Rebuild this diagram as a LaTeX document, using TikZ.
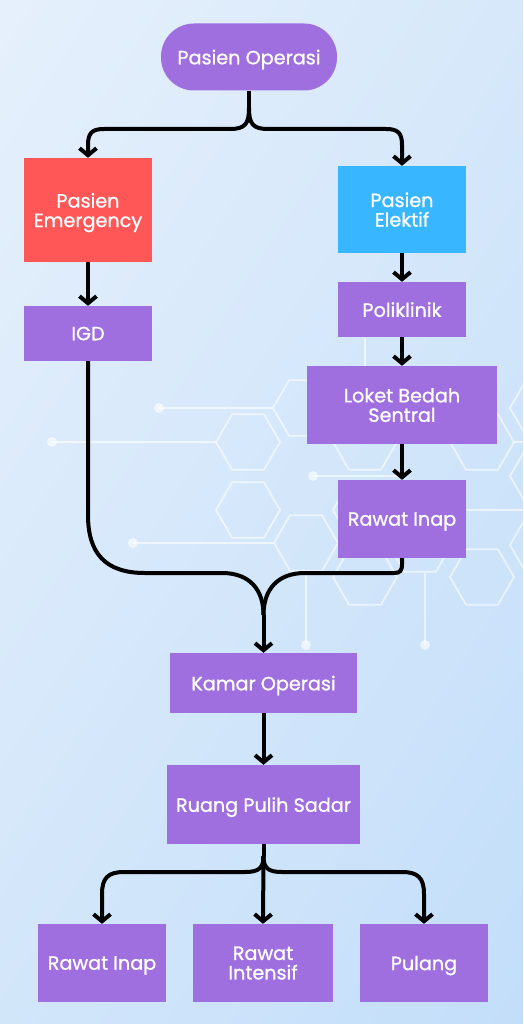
\documentclass[tikz,border=0pt]{standalone}
\usepackage{fontspec}
\setmainfont{Poppins}[FakeBold=0.9]
\usetikzlibrary{arrows.meta,shadings}
\definecolor{purp}{HTML}{9F6FE0}
\definecolor{emred}{HTML}{FF5757}
\definecolor{elblue}{HTML}{38B6FF}
\definecolor{bgA}{HTML}{E6F0FC}
\definecolor{bgB}{HTML}{D6E8FA}
\definecolor{bgC}{HTML}{D2E6FA}
\definecolor{bgD}{HTML}{C3DEFA}
\begin{document}
\begin{tikzpicture}[x=1pt,y=1pt,
  box/.style={rectangle, fill=purp, text=white, align=center, inner sep=0pt,
    text depth=0pt, font=\fontsize{19.2}{19.5}\selectfont},
  flow/.style={line width=4pt, black, -{Straight Barb[length=7pt,width=17pt]}},
  link/.style={line width=4pt, black},
  hexline/.style={white, opacity=0.6, line width=1.8pt, line join=round},
  dotmark/.style={fill=white, opacity=0.6},
]
\shade[upper left=bgA, upper right=bgB, lower left=bgC, lower right=bgD]
  (0,0) rectangle (523,-1024);
\useasboundingbox (0,0) rectangle (523,-1024);

% background decoration
\foreach \cx/\cy in {248/442, 248/510, 305/408, 306/543, 365/442, 365/510, 365/577,
  420/544, 482/442, 482/577, 542/408, 542/476, 542/545}
  \draw[hexline] (\cx,-\cy) ++(32,0) -- ++(-16,-27.7) -- ++(-32,0) -- ++(-16,27.7)
     -- ++(16,27.7) -- ++(32,0) -- cycle;
\draw[hexline] (159,-408) -- (273,-408);
\draw[hexline] (52,-442) -- (216,-442);
\draw[hexline] (313,-476) -- (400,-476);
\draw[hexline] (133,-543) -- (274,-543);
\draw[hexline] (306,-571) -- (306,-645);
\draw[hexline] (425,-573) -- (425,-645);
\draw[hexline] (365,-338) -- (365,-380);
\draw[hexline] (467,-510) -- (523,-510);
\draw[hexline] (514,-442) -- (523,-442);
\foreach \px/\py in {159/408, 52/442, 313/476, 133/543, 306/645, 425/645}
  \fill[dotmark] (\px,-\py) circle (5);

% nodes
\node[box, rounded corners=33pt, minimum width=176pt, minimum height=67pt] (po) at (249,-57) {Pasien Operasi};
\node[box, fill=emred, minimum width=128pt, minimum height=104pt] (em) at (88,-210) {Pasien\\Emergency};
\node[box, fill=elblue, minimum width=128pt, minimum height=87pt] (el) at (402,-209.5) {Pasien\\Elektif};
\node[box, minimum width=128pt, minimum height=55pt] (igd) at (88,-333.5) {IGD};
\node[box, minimum width=128pt, minimum height=55pt] (pk) at (402,-309.5) {Poliklinik};
\node[box, minimum width=190pt, minimum height=78pt] (lbs) at (402,-405) {Loket Bedah\\Sentral};
\node[box, minimum width=128pt, minimum height=78pt] (ri) at (402,-519) {Rawat Inap};
\node[box, minimum width=187pt, minimum height=60pt] (ko) at (263.5,-683) {Kamar Operasi};
\node[box, minimum width=193pt, minimum height=79pt] (rps) at (263.5,-804.5) {Ruang Pulih Sadar};
\node[box, minimum width=128pt, minimum height=78pt] (ri2) at (102,-963) {Rawat Inap};
\node[box, minimum width=140pt, minimum height=78pt] (rin) at (263,-963) {Rawat\\Intensif};
\node[box, minimum width=128pt, minimum height=78pt] (pl) at (424,-963) {Pulang};

% helper coordinates
\coordinate (fa) at (249,-108);
\coordinate (fb) at (263.5,-615);
\coordinate (fc) at (263.5,-856);

% connectors
\draw[link] (po.south) -- (fa);
\draw[flow] (fa) .. controls (249,-124) and (245,-129) .. (230,-129) -- (104,-129)
   .. controls (92,-129) and (88,-133) .. (88,-145) -- (em.north);
\draw[flow] (fa) .. controls (249,-124) and (253,-129) .. (268,-129) -- (386,-129)
   .. controls (398,-129) and (402,-133) .. (402,-145) -- (el.north);
\draw[flow] (em.south) -- (igd.north);
\draw[flow] (el.south) -- (pk.north);
\draw[flow] (pk.south) -- (lbs.north);
\draw[flow] (lbs.south) -- (ri.north);
\draw[link] (igd.south) -- (88,-515) .. controls (88,-553) and (105,-573) .. (145,-573)
   -- (222,-573) .. controls (250,-573) and (263.5,-590) .. (fb);
\draw[link] (ri.south) -- (402,-564) .. controls (402,-571) and (400,-573) .. (394,-573)
   -- (305,-573) .. controls (277,-573) and (263.5,-590) .. (fb);
\draw[flow] (fb) -- (ko.north);
\draw[flow] (ko.south) -- (rps.north);
\draw[link] (rps.south) -- (fc);
\draw[flow] (fc) .. controls (263.5,-868) and (259,-872) .. (245,-872) -- (124,-872)
   .. controls (108,-872) and (102,-878) .. (102,-894) -- (ri2.north);
\draw[flow] (fc) -- (rin.north);
\draw[flow] (fc) .. controls (263.5,-868) and (268,-872) .. (282,-872) -- (402,-872)
   .. controls (418,-872) and (424,-878) .. (424,-894) -- (pl.north);
\end{tikzpicture}
\end{document}
